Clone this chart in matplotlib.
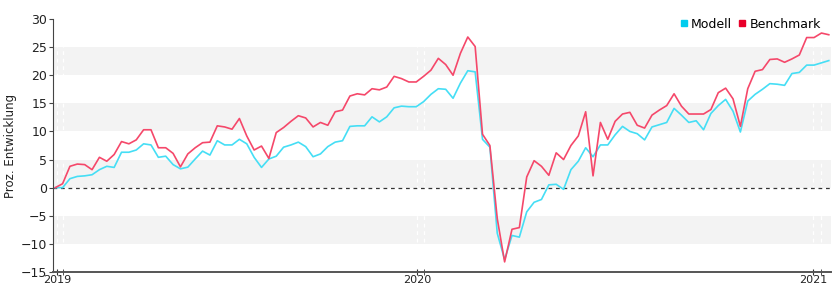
import matplotlib
matplotlib.use("Agg")
import matplotlib.pyplot as plt
import numpy as np
from matplotlib.lines import Line2D

# ---------------------------------------------------------------------------
# Data: weekly cumulative development in percent
# ---------------------------------------------------------------------------
modell = [
    0, 0, 1.6, 2.0, 2.1, 2.3, 3.2, 3.8, 3.6, 6.3, 6.3, 6.7, 7.8, 7.6, 5.4, 5.6,
    4.1, 3.35, 3.65, 5.1, 6.5, 5.8, 8.35, 7.6, 7.6, 8.6, 7.8, 5.4, 3.6, 5.1, 5.6,
    7.2, 7.6, 8.1, 7.3, 5.5, 6.0, 7.3, 8.1, 8.35,
    10.9, 11.0, 11.0, 12.6, 11.7, 12.6, 14.2, 14.5, 14.4, 14.4, 15.3, 16.6, 17.6, 17.5,
    15.9, 18.6, 20.8, 20.6, 8.6, 7.2, -8.1, -12.8, -8.5, -8.8, -4.3, -2.6, -2.1, 0.5,
    0.6, -0.3, 3.2, 4.7, 7.1, 5.5, 7.6, 7.6, 9.4, 10.9, 10.0, 9.6, 8.5,
    10.8, 11.2, 11.6, 14.1, 12.9, 11.6, 11.9, 10.3, 13.2, 14.6, 15.7, 13.6, 9.9,
    15.4, 16.6, 17.5, 18.5, 18.4, 18.2, 20.3, 20.5, 21.8, 21.8, 22.2, 22.6,
]
benchmark = [
    0, 0.7, 3.8, 4.2, 4.1, 3.2, 5.4, 4.7, 5.9, 8.2, 7.8, 8.5, 10.3, 10.3, 7.1, 7.1,
    6.1, 3.7, 6.0, 7.1, 8.0, 8.1, 11.0, 10.8, 10.4, 12.3, 9.2, 6.7, 7.4, 5.2, 9.8,
    10.7, 11.8, 12.8, 12.4, 10.8, 11.6, 11.1, 13.5, 13.8,
    16.3, 16.7, 16.5, 17.6, 17.4, 17.9, 19.8, 19.4, 18.8, 18.8, 19.8, 20.9, 23.0, 21.9,
    20.0, 23.9, 26.8, 25.1, 9.5, 7.5, -5.5, -13.2, -7.4, -7.1, 1.9, 4.8, 3.8, 2.2,
    6.2, 5.0, 7.5, 9.2, 13.5, 2.1, 11.6, 8.6, 11.8, 13.1, 13.4, 11.1, 10.6,
    12.9, 13.8, 14.6, 16.7, 14.5, 13.1, 13.1, 13.1, 13.9, 16.9, 17.7, 15.8, 10.9,
    17.6, 20.7, 21.0, 22.8, 22.9, 22.3, 22.9, 23.6, 26.7, 26.7, 27.5, 27.2,
]
year_labels = ["2019", "2020", "2021"]
year_pos = [0.3, 49.1, 102.9]      # week index of the year ticks
year_pos_minor = [1.0, 50.0, 104.0]

weeks = np.arange(len(modell))

COL_MODELL = "#45def5"
COL_BENCH = "#f5486a"

fig = plt.figure(figsize=(8.33, 2.86), dpi=100)
ax = fig.add_axes([53 / 833, 14 / 286, 778 / 833, 253 / 286])

# alternating grey bands
for lo in (20, 10, 0, -10):
    ax.axhspan(lo, lo + 5, color="#f3f3f3", lw=0, zorder=0)
for xp in year_pos + year_pos_minor:
    ax.axvline(xp, color="white", lw=0.9, ls=(0, (3, 3)), zorder=0.5)

ax.axhline(0, color="#333333", lw=0.9, ls=(0, (3, 3)), zorder=1)

ax.plot(weeks, modell, color=COL_MODELL, lw=1.2, zorder=2)
ax.plot(weeks, benchmark, color=COL_BENCH, lw=1.2, zorder=3)

ax.set_xlim(-0.3, 105.3)
ax.set_ylim(-15, 30)
ax.set_yticks(np.arange(-15, 31, 5))
ax.set_xticks(year_pos)
ax.set_xticklabels(year_labels)
ax.set_xticks(year_pos_minor, minor=True)

for s in ("top", "right"):
    ax.spines[s].set_visible(False)
ax.spines["left"].set_color("#444444")
ax.spines["bottom"].set_color("#555555")
ax.spines["bottom"].set_linewidth(1.4)

ax.tick_params(axis="y", length=3, pad=1, color="#444444", labelsize=9,
               labelcolor="#222222")
ax.tick_params(axis="x", which="both", direction="inout", length=4,
               color="#333333", labelsize=8, labelcolor="#222222", pad=0)

ax.set_ylabel("Proz. Entwicklung", fontsize=8.5, color="#222222", labelpad=3)

handles = [
    Line2D([], [], ls="none", marker="s", ms=5, color="#00ccee"),
    Line2D([], [], ls="none", marker="s", ms=5, color="#e8002a"),
]
ax.legend(handles, ["Modell", "Benchmark"], loc="upper right",
          bbox_to_anchor=(0.997, 1.035), ncol=2, frameon=False, fontsize=9,
          handlelength=0.6, handletextpad=0.3, columnspacing=0.5,
          borderpad=0.1)

fig.savefig("out.png", dpi=100)
